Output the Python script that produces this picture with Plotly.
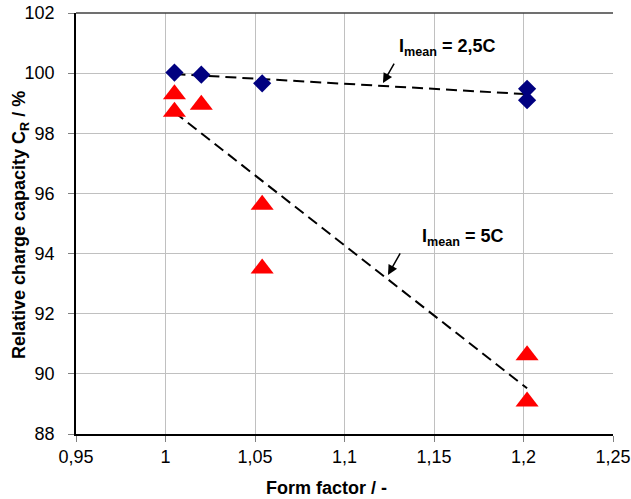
import plotly.graph_objects as go

# ---- data ----
form_factor_25 = [1.005, 1.020, 1.054, 1.202, 1.202]
capacity_25 = [100.02, 99.95, 99.66, 99.48, 99.10]

form_factor_5 = [1.005, 1.005, 1.020, 1.054, 1.054, 1.202, 1.202]
capacity_5 = [99.30, 98.72, 98.95, 95.62, 93.50, 90.62, 89.08]

trend_x_25 = [1.005, 1.202]
trend_y_25 = [99.97, 99.30]
trend_x_5 = [1.005, 1.202]
trend_y_5 = [98.70, 89.52]

x_ticks = [0.95, 1.0, 1.05, 1.1, 1.15, 1.2, 1.25]
x_tick_labels = ["0,95", "1", "1,05", "1,1", "1,15", "1,2", "1,25"]
y_ticks = [88, 90, 92, 94, 96, 98, 100, 102]
y_tick_labels = ["88", "90", "92", "94", "96", "98", "100", "102"]

FONT = "Liberation Sans, Arial, sans-serif"

fig = go.Figure()
fig.add_trace(go.Scatter(x=trend_x_25, y=trend_y_25, mode="lines",
                         line=dict(color="black", width=2, dash="11px,6px"),
                         showlegend=False, hoverinfo="skip"))
fig.add_trace(go.Scatter(x=trend_x_5, y=trend_y_5, mode="lines",
                         line=dict(color="black", width=2, dash="11px,6px"),
                         showlegend=False, hoverinfo="skip"))
fig.add_trace(go.Scatter(x=form_factor_25, y=capacity_25, mode="markers",
                         marker=dict(symbol="diamond", size=14, color="#000080",
                                     line=dict(width=0)),
                         showlegend=False))
fig.add_trace(go.Scatter(x=form_factor_5, y=capacity_5, mode="markers",
                         marker=dict(symbol="triangle-up", size=20, color="#FF0000",
                                     line=dict(width=0)),
                         showlegend=False))

fig.update_layout(
    width=631, height=499,
    margin=dict(l=76, r=18, t=13, b=65, autoexpand=False),
    paper_bgcolor="white", plot_bgcolor="white",
    font=dict(family=FONT, size=18, color="black"),
    xaxis=dict(range=[0.95, 1.25], tickvals=x_ticks, ticktext=x_tick_labels,
               showgrid=True, gridcolor="#C0C0C0", gridwidth=1,
               showline=True, linecolor="black", linewidth=1.5,
               ticks="outside", ticklen=6, tickcolor="#808080",
               zeroline=False, ticklabelstandoff=0, automargin=False),
    yaxis=dict(range=[88, 102], tickvals=y_ticks, ticktext=y_tick_labels,
               showgrid=True, gridcolor="#C0C0C0", gridwidth=1,
               showline=True, linecolor="black", linewidth=1.5,
               ticks="outside", ticklen=6, tickcolor="#808080",
               zeroline=False, ticklabelstandoff=10, automargin=False),
    showlegend=False,
)

# top border
fig.add_shape(type="line", xref="paper", yref="paper", x0=0, x1=1, y0=1, y1=1,
              line=dict(color="#404040", width=1.5))

# axis titles
fig.add_annotation(text="<b>Form factor / -</b>", xref="paper", yref="paper",
                   x=(326 - 76) / 537, y=-(488 - 434) / 421, showarrow=False,
                   font=dict(size=18, family=FONT), xanchor="center", yanchor="middle")
fig.add_annotation(text="<b>Relative charge capacity C<sub>R</sub> / %</b>", xref="paper", yref="paper",
                   x=-(76 - 20) / 537, y=(434 - 225) / 421, showarrow=False, textangle=-90,
                   font=dict(size=18, family=FONT), xanchor="center", yanchor="middle")

# series labels with arrows
fig.add_annotation(text="<b>I<sub>mean</sub> = 2,5C</b>", x=1.1293, y=100.85,
                   showarrow=False, xanchor="left", yanchor="middle",
                   font=dict(size=18, family=FONT))
fig.add_annotation(x=1.1215, y=99.67, ax=12, ay=-21, text="", showarrow=True,
                   arrowhead=2, arrowsize=1.3, arrowwidth=1.5, arrowcolor="black")
fig.add_annotation(text="<b>I<sub>mean</sub> = 5C</b>", x=1.1422, y=94.55,
                   showarrow=False, xanchor="left", yanchor="middle",
                   font=dict(size=18, family=FONT))
fig.add_annotation(x=1.1243, y=93.29, ax=13, ay=-23, text="", showarrow=True,
                   arrowhead=2, arrowsize=1.3, arrowwidth=1.5, arrowcolor="black")

fig.write_html("out.html", config={"displayModeBar": False},
               post_script="document.body.style.margin='0';document.body.style.overflow='hidden';")
